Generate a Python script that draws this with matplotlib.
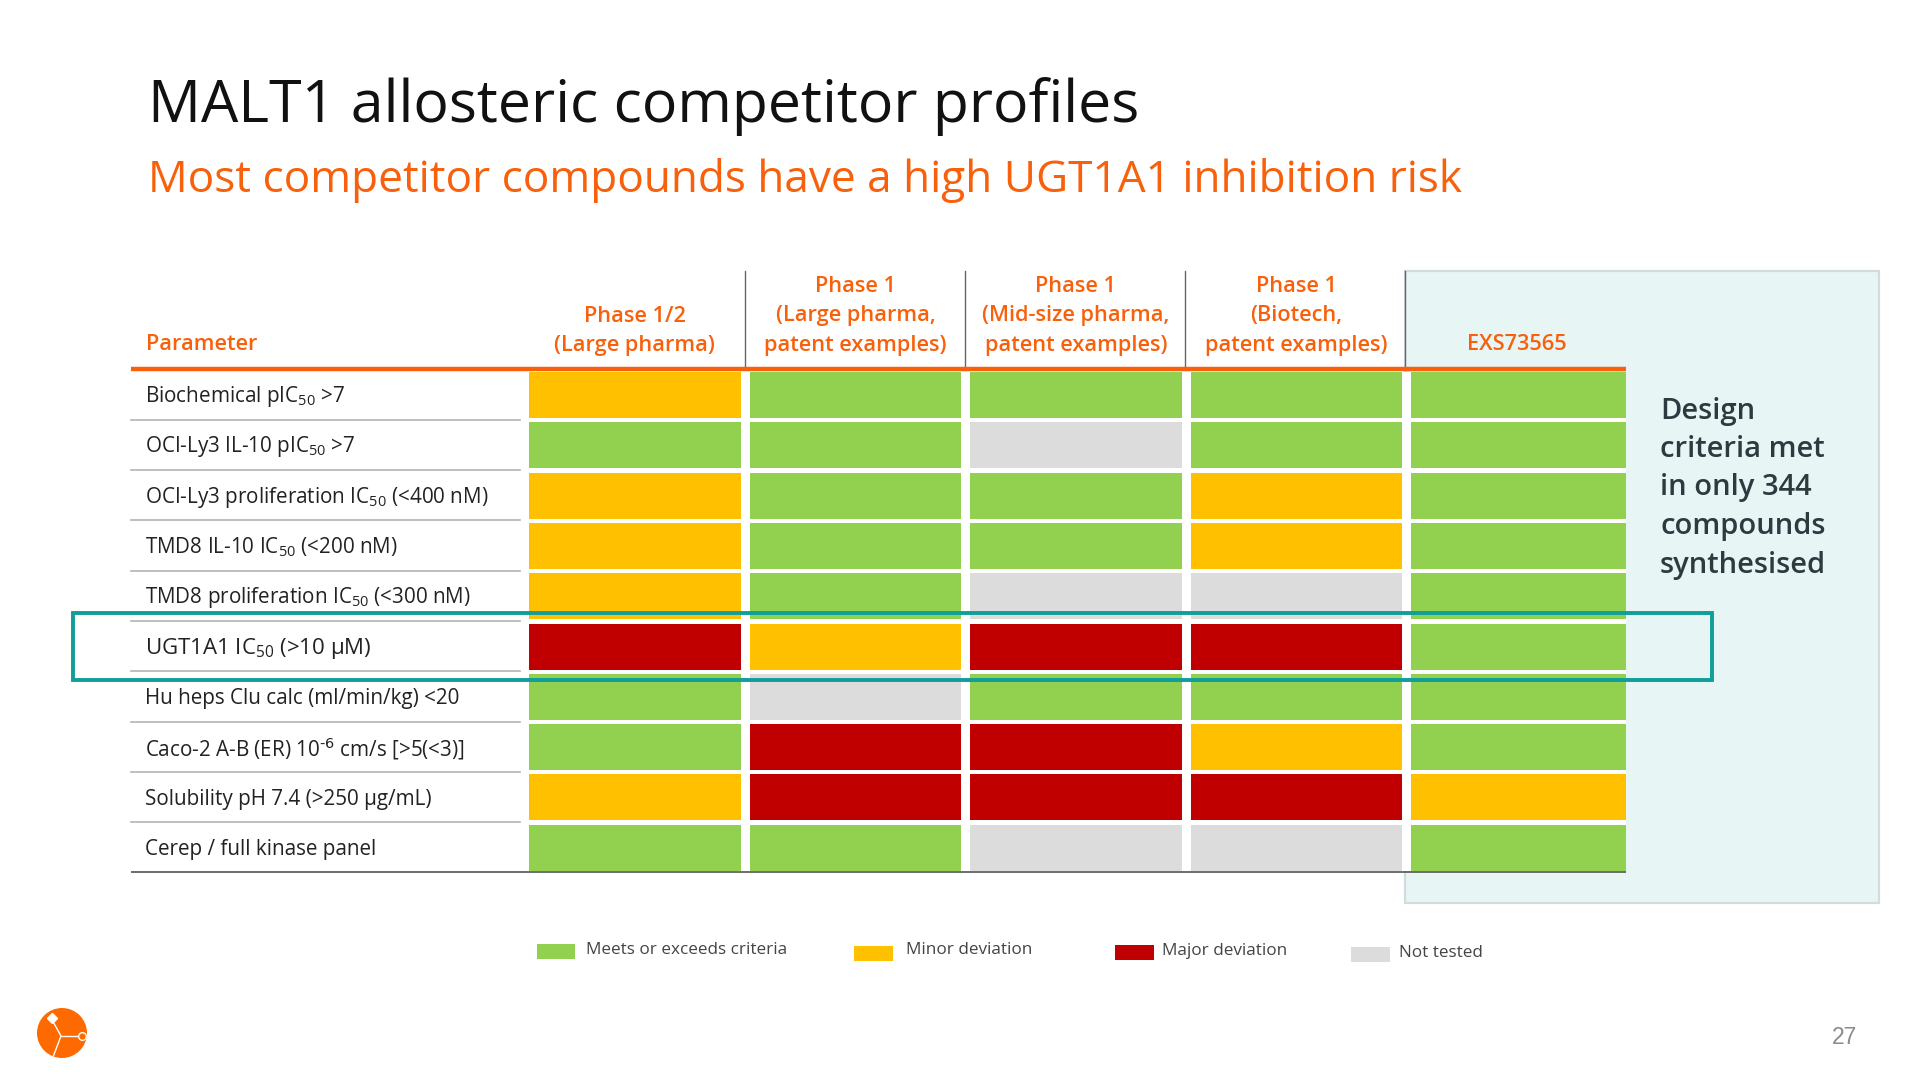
import matplotlib
matplotlib.use('Agg')
import matplotlib.pyplot as plt
from matplotlib.patches import Rectangle, Circle

plt.rcParams['font.family'] = ['Open Sans', 'DejaVu Sans']
plt.rcParams['mathtext.default'] = 'regular'

ORANGE = '#F8600C'
TEAL = '#0F9E9A'
STATUS_COLORS = {'G': '#92D050', 'Y': '#FFC000', 'R': '#C00000', 'N': '#DCDCDC'}

title = 'MALT1 allosteric competitor profiles'
subtitle = 'Most competitor compounds have a high UGT1A1 inhibition risk'

columns = ['Phase 1/2\n(Large pharma)',
           'Phase 1\n(Large pharma,\npatent examples)',
           'Phase 1\n(Mid-size pharma,\npatent examples)',
           'Phase 1\n(Biotech,\npatent examples)',
           'EXS73565']
parameters = ['Biochemical pIC$_{50}$ >7',
              'OCI-Ly3 IL-10 pIC$_{50}$ >7',
              'OCI-Ly3 proliferation IC$_{50}$ (<400 nM)',
              'TMD8 IL-10 IC$_{50}$ (<200 nM)',
              'TMD8 proliferation IC$_{50}$ (<300 nM)',
              'UGT1A1 IC$_{50}$ (>10 µM)',
              'Hu heps Clu calc (ml/min/kg) <20',
              'Caco-2 A-B (ER) 10$^{\\text{-6}}$ cm/s [>5(<3)]',
              'Solubility pH 7.4 (>250 µg/mL)',
              'Cerep / full kinase panel']
status = [['Y', 'G', 'G', 'G', 'G'],
          ['G', 'G', 'N', 'G', 'G'],
          ['Y', 'G', 'G', 'Y', 'G'],
          ['Y', 'G', 'G', 'Y', 'G'],
          ['Y', 'G', 'N', 'N', 'G'],
          ['R', 'Y', 'R', 'R', 'G'],
          ['G', 'N', 'G', 'G', 'G'],
          ['G', 'R', 'R', 'Y', 'G'],
          ['Y', 'R', 'R', 'R', 'Y'],
          ['G', 'G', 'N', 'N', 'G']]
legend_labels = ['Meets or exceeds criteria', 'Minor deviation', 'Major deviation', 'Not tested']
legend_keys = ['G', 'Y', 'R', 'N']
side_note = ['Design', 'criteria met', 'in only 344', 'compounds', 'synthesised']

W, H = 1920, 1080
fig = plt.figure(figsize=(W / 100, H / 100), dpi=100, facecolor='white')

# page axes in pixels, everything that is not a table cell goes here
ax = fig.add_axes([0, 0, 1, 1], zorder=1)
ax.set_xlim(0, W)
ax.set_ylim(H, 0)
ax.axis('off')

# table axes: one unit per column / row
x0, col_w = 529, 220.5
y0, row_h = 372, 50.3
tbl = fig.add_axes([x0 / W, 1 - (y0 + 10 * row_h) / H, 5 * col_w / W, 10 * row_h / H], zorder=2)
tbl.set_xlim(0, 5)
tbl.set_ylim(10, 0)
tbl.axis('off')

# side panel
ax.add_patch(Rectangle((1405, 271), 474, 632, fc='#E7F5F5', ec='#D3DBDD', lw=1.6, zorder=1))

# white backing so the gaps between cells stay white over the panel
tbl.add_patch(Rectangle((0, 0), 4.975, 9.915, fc='white', ec='none', zorder=1))
for r, row in enumerate(status):
    for c, key in enumerate(row):
        width = 0.975 if c == 4 else 0.96
        tbl.bar(c, 0.915, width=width, bottom=r, align='edge', color=STATUS_COLORS[key], lw=0, zorder=2)

# teal highlight sits over the cells, so it needs its own top layer
top = fig.add_axes([0, 0, 1, 1], zorder=3)
top.set_xlim(0, W)
top.set_ylim(H, 0)
top.axis('off')
top.add_patch(Rectangle((73, 613), 1639, 67, fc='none', ec=TEAL, lw=2.8))

ax.text(148, 122, title, fontsize=42.5, color='#111111', va='baseline')
ax.text(148, 192, subtitle, fontsize=31.8, color=ORANGE, va='baseline')

# header
ax.text(146, 345, 'Parameter', fontsize=15.7, color=ORANGE, weight='semibold', va='center')
for c, label in enumerate(columns):
    xc = x0 + (c + 0.48) * col_w
    lines = label.split('\n')
    for i, line in enumerate(reversed(lines)):
        ax.text(xc, 345 - i * 29, line, fontsize=15.7, color=ORANGE, weight='semibold',
                ha='center', va='center')

for xv in [745, 965, 1185, 1405]:
    ax.plot([xv, xv], [271, 367], color='#666666', lw=1.0, zorder=3)
ax.plot([131, 1626], [369, 369], color=ORANGE, lw=3.2, zorder=4, solid_capstyle='butt')

# row labels and separators
for r, label in enumerate(parameters):
    yc = y0 + (r + 0.46) * row_h + 1.5
    size = 16 if r == 5 else 14.9
    ax.text(145, yc, label, fontsize=size, color='#222222', va='center')
    if r < 9:
        ax.plot([131, 520], [y0 + (r + 0.95) * row_h] * 2, color='#B4B4B4', lw=1.2)
ax.plot([131, 1626], [872, 872], color='#555555', lw=1.2, zorder=4, solid_capstyle='butt')

# side note
for i, line in enumerate(side_note):
    ax.text(1660, 411 + i * 38.5, line, fontsize=21, color='#2F3A40', weight='semibold',
            va='center', zorder=5)

# legend
legend_x = [537, 854, 1115, 1351]
legend_w = [38, 39, 39, 39]
legend_y = [944, 946, 945, 947]
legend_text_x = [586, 906, 1162, 1399]
legend_text_y = [950, 950, 951, 953]
for key, label, lx, lw_, ly, tx, ty in zip(legend_keys, legend_labels, legend_x, legend_w,
                                           legend_y, legend_text_x, legend_text_y):
    ax.add_patch(Rectangle((lx, ly), lw_, 15, fc=STATUS_COLORS[key], ec='none'))
    ax.text(tx, ty, label, fontsize=12.3, color='#444444', va='center')

# logo
ax.add_patch(Circle((62, 1033), 25, fc='#FF6A00', ec='none'))
ax.plot([51, 61, 53], [1018, 1036, 1057], color='white', lw=1.0)
ax.plot([61, 79], [1036, 1036], color='white', lw=1.0)
ax.plot([52], [1018], marker='D', ms=5, color='white')
ax.plot([82], [1036], marker='o', ms=5.5, mfc='#FF6A00', mec='white', mew=1)

ax.text(1857, 1037, '27', fontsize=16.5, color='#8C8C8C', family='Liberation Sans', ha='right', va='center')

fig.savefig('out.png', dpi=100)
